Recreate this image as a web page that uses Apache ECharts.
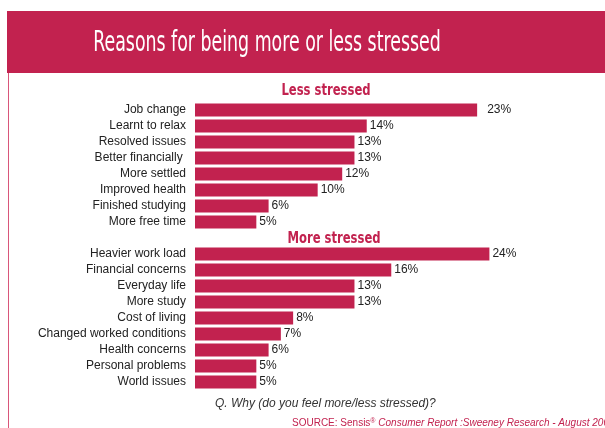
<!DOCTYPE html>
<html>
<head>
<meta charset="utf-8">
<script src="https://cdn.jsdelivr.net/npm/echarts@6/dist/echarts.min.js"></script>
<style>
  html, body { margin: 0; padding: 0; background: #fff; }
  #chart { width: 605px; height: 428px; }
</style>
</head>
<body>
<div id="chart"></div>
<script>
// Survey responses: reasons people gave for feeling less / more stressed (% of respondents)
const lessCategories = ['Job change', 'Learnt to relax', 'Resolved issues', 'Better financially ', 'More settled', 'Improved health', 'Finished studying', 'More free time'];
const lessValues = [23, 14, 13, 13, 12, 10, 6, 5];

const moreCategories = ['Heavier work load', 'Financial concerns', 'Everyday life', 'More study', 'Cost of living', 'Changed worked conditions', 'Health concerns', 'Personal problems', 'World issues'];
const moreValues = [24, 16, 13, 13, 8, 7, 6, 5, 5];

const chartTitle = 'Reasons for being more or less stressed';
const lessHeading = 'Less stressed';
const moreHeading = 'More stressed';
const questionText = 'Q. Why (do you feel more/less stressed)?';

const RED = '#C2224F';
const TITLE_FONT = '"DejaVu Sans Condensed", "DejaVu Sans", sans-serif';
const BODY_FONT = '"Liberation Sans", Arial, sans-serif';

const chart = echarts.init(document.getElementById('chart'), null, { renderer: 'canvas' });

function categoryAxis(gridIndex, cats) {
  return {
    type: 'category',
    gridIndex: gridIndex,
    data: cats,
    inverse: true,
    axisLine: { show: false },
    axisTick: { show: false },
    axisLabel: {
      margin: 9,
      fontFamily: BODY_FONT,
      fontSize: 12,
      color: '#222'
    }
  };
}

function valueAxis(gridIndex) {
  return {
    type: 'value',
    gridIndex: gridIndex,
    min: 0,
    max: 30,
    show: false,
    splitLine: { show: false }
  };
}

function barSeries(idx, values) {
  return {
    type: 'bar',
    xAxisIndex: idx,
    yAxisIndex: idx,
    data: values.map(v => (v === 23 ? { value: v, label: { distance: 10 } } : v)),
    barWidth: 13,
    itemStyle: { color: RED },
    label: {
      show: true,
      position: 'right',
      distance: 3,
      formatter: '{c}%',
      fontFamily: BODY_FONT,
      fontSize: 12,
      color: '#222'
    },
    silent: true,
    animation: false
  };
}

chart.setOption({
  animation: false,
  grid: [
    { left: 195, right: 42, top: 102, height: 128 },
    { left: 195, right: 42, top: 246, height: 144 }
  ],
  xAxis: [valueAxis(0), valueAxis(1)],
  yAxis: [categoryAxis(0, lessCategories), categoryAxis(1, moreCategories)],
  series: [barSeries(0, lessValues), barSeries(1, moreValues)],
  graphic: [
    // header band
    { type: 'rect', shape: { x: 7, y: 11, width: 610, height: 62 }, style: { fill: RED }, silent: true },
    // thin left border
    { type: 'rect', shape: { x: 8, y: 73, width: 1, height: 360 }, style: { fill: '#D9567A' }, silent: true },
    {
      type: 'text', x: 267, y: 44, scaleX: 0.69,
      style: { text: chartTitle, fill: '#fff', font: '28px ' + TITLE_FONT, textAlign: 'center', textVerticalAlign: 'middle' }
    },
    {
      type: 'text', x: 326, y: 91, scaleX: 0.86,
      style: { text: lessHeading, fill: RED, font: 'bold 15px ' + TITLE_FONT, textAlign: 'center', textVerticalAlign: 'middle' }
    },
    {
      type: 'text', x: 334, y: 239, scaleX: 0.86,
      style: { text: moreHeading, fill: RED, font: 'bold 15px ' + TITLE_FONT, textAlign: 'center', textVerticalAlign: 'middle' }
    },
    {
      type: 'text', x: 215, y: 404,
      style: { text: questionText, fill: '#333', font: 'italic 12px ' + BODY_FONT, textAlign: 'left', textVerticalAlign: 'middle' }
    },
    {
      type: 'text', x: 292, y: 423,
      style: {
        text: '{n|SOURCE: Sensis}{s|®}{i| Consumer Report :Sweeney Research - August 2009}',
        textAlign: 'left', textVerticalAlign: 'middle',
        rich: {
          n: { fill: RED, font: '10px ' + BODY_FONT },
          s: { fill: RED, font: '7px ' + BODY_FONT, verticalAlign: 'top' },
          i: { fill: RED, font: 'italic 10px ' + BODY_FONT }
        }
      }
    }
  ]
});
</script>
</body>
</html>
